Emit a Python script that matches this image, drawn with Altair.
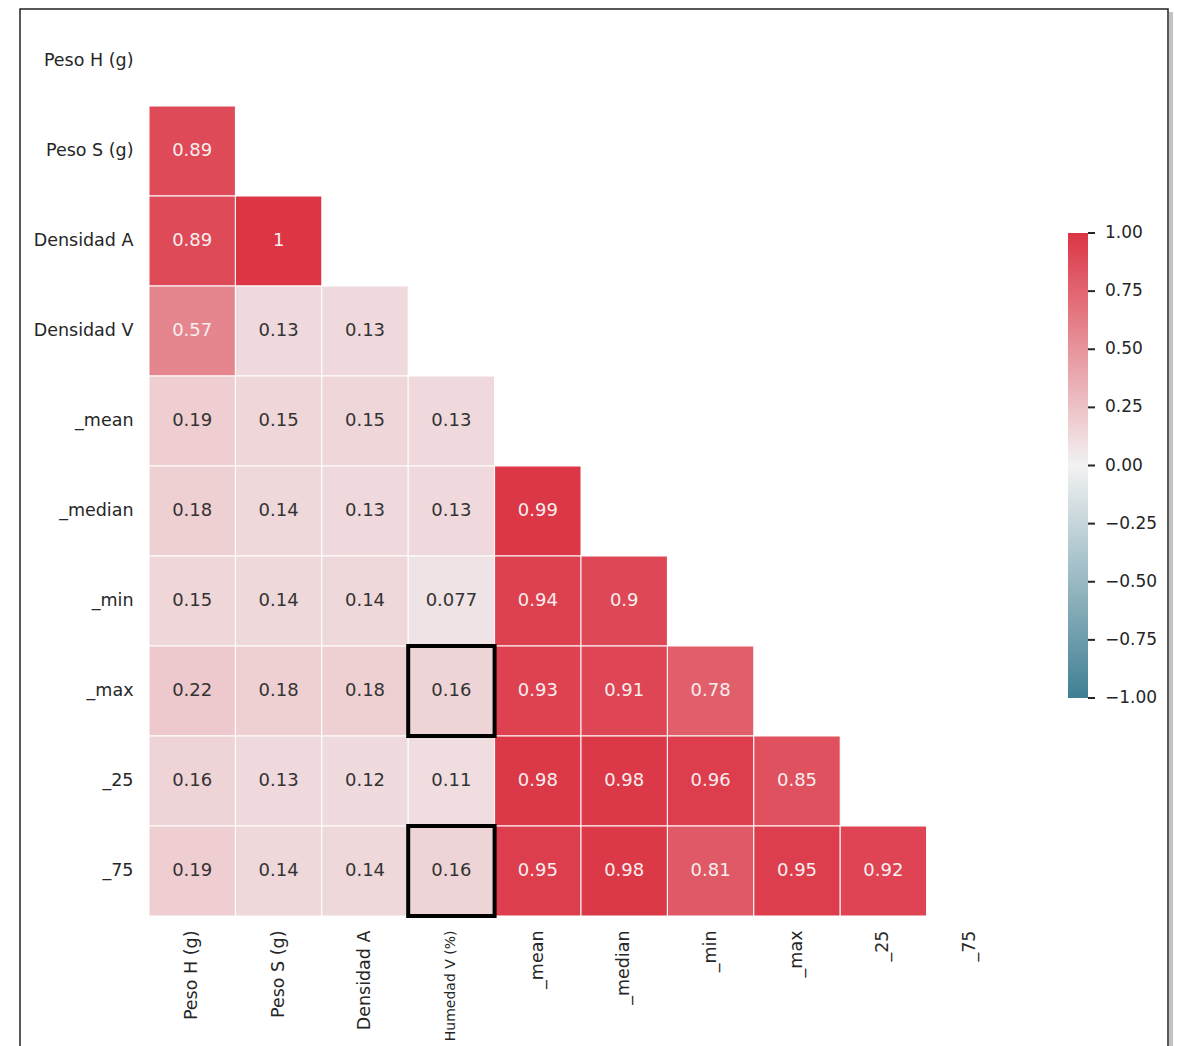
import altair as alt
import pandas as pd

row_labels = ["Peso H (g)", "Peso S (g)", "Densidad A", "Densidad V", "_mean",
              "_median", "_min", "_max", "_25", "_75"]
col_labels = ["Peso H (g)", "Peso S (g)", "Densidad A", "Humedad V (%)", "_mean",
              "_median", "_min", "_max", "_25", "_75"]

# lower-triangle correlation values, row by row (row i has i values)
row_values = [
    [],
    [0.89],
    [0.89, 1.0],
    [0.57, 0.13, 0.13],
    [0.19, 0.15, 0.15, 0.13],
    [0.18, 0.14, 0.13, 0.13, 0.99],
    [0.15, 0.14, 0.14, 0.077, 0.94, 0.9],
    [0.22, 0.18, 0.18, 0.16, 0.93, 0.91, 0.78],
    [0.16, 0.13, 0.12, 0.11, 0.98, 0.98, 0.96, 0.85],
    [0.19, 0.14, 0.14, 0.16, 0.95, 0.98, 0.81, 0.95, 0.92],
]

# highlighted cells (row label, column label)
highlight = [("_max", "Humedad V (%)"), ("_75", "Humedad V (%)")]

colorbar_ticks = [-1, -0.75, -0.5, -0.25, 0, 0.25, 0.5, 0.75, 1]

records = []
for i, vals in enumerate(row_values):
    for j, v in enumerate(vals):
        records.append({"row": row_labels[i], "col": col_labels[j], "value": v})
df = pd.DataFrame(records)
hl = pd.DataFrame([{"row": r, "col": c} for r, c in highlight])
ticks_df = pd.DataFrame({"t": colorbar_ticks})

FONT = "DejaVu Sans"
W, H = 864, 900

is_hum = "datum.value == 'Humedad V (%)'"

x_enc = alt.X("col:N", sort=col_labels, scale=alt.Scale(domain=col_labels, paddingInner=0, paddingOuter=0),
              axis=alt.Axis(title=None, labelAngle=-90, ticks=False, domain=False,
                            labelPadding=14, labelLimit=0,
                            labelFontSize={"condition": {"test": is_hum, "value": 14}, "value": 17.5},
                            labelFont=FONT, labelColor="#262626"))
y_enc = alt.Y("row:N", sort=row_labels, scale=alt.Scale(domain=row_labels, paddingInner=0, paddingOuter=0),
              axis=alt.Axis(title=None, ticks=False, domain=False, labelPadding=16,
                            labelFontSize=17.5, labelFont=FONT, labelColor="#262626"))

cmap = alt.Scale(domain=[-1, 0, 1], range=["#3f7f93", "#f2f2f2", "#dc3545"], interpolate="rgb")

cells = alt.Chart(df).mark_rect(stroke="white", strokeWidth=1).encode(
    x=x_enc, y=y_enc,
    color=alt.Color("value:Q", scale=cmap,
                    legend=alt.Legend(title=None, orient="none", legendX=919, legendY=217,
                                      direction="vertical", gradientLength=465,
                                      gradientThickness=20, labelExpr="''",
                                      gradientStrokeWidth=0)),
)

texts = alt.Chart(df).mark_text(font=FONT, fontSize=18).encode(
    x=alt.X("col:N", sort=col_labels), y=alt.Y("row:N", sort=row_labels),
    text=alt.Text("value:Q", format=".2~g"),
    color=alt.condition(alt.datum.value > 0.45, alt.value("#f7eeef"), alt.value("#333333")),
)

boxes = alt.Chart(hl).mark_rect(fillOpacity=0, stroke="black", strokeWidth=4).encode(
    x=alt.X("col:N", sort=col_labels), y=alt.Y("row:N", sort=row_labels),
)

heat = alt.layer(cells, texts, boxes)

# colour bar ticks and tick labels
cb_y = alt.Y("t:Q", scale=alt.Scale(domain=[-1, 1], range=[682, 217]), axis=None)
cb_ticks = alt.Chart(ticks_df).mark_rule(color="#262626", strokeWidth=2).encode(
    y=cb_y, x=alt.value(939), x2=alt.value(946),
)
cb_labels = alt.Chart(ticks_df).mark_text(font=FONT, fontSize=17, color="#262626",
                                          align="left", baseline="middle").encode(
    y=cb_y, x=alt.value(956), text=alt.Text("t:Q", format=".2f"),
)
colorbar = alt.layer(cb_ticks, cb_labels)

frame_df = pd.DataFrame([{"k": 0}])
frame = alt.Chart(frame_df).mark_rect(fillOpacity=0, stroke="#222222", strokeWidth=1.5).encode(
    x=alt.value(-129), x2=alt.value(1019), y=alt.value(-7), y2=alt.value(1100),
)
shadow = alt.Chart(frame_df).mark_rect(fill="#9a9a9a", opacity=0.6).encode(
    x=alt.value(1020), x2=alt.value(1025), y=alt.value(-4), y2=alt.value(1100),
)

chart = alt.layer(heat, colorbar, frame, shadow).resolve_scale(y="independent").properties(
    width=W, height=H,
    autosize=alt.AutoSizeParams(type="none"),
    padding={"left": 141, "top": 8, "right": 160, "bottom": 130},
).configure(background="white").configure_view(strokeWidth=0, stroke="transparent")

chart.save("out.html", embed_options={"renderer": "svg", "actions": False})
